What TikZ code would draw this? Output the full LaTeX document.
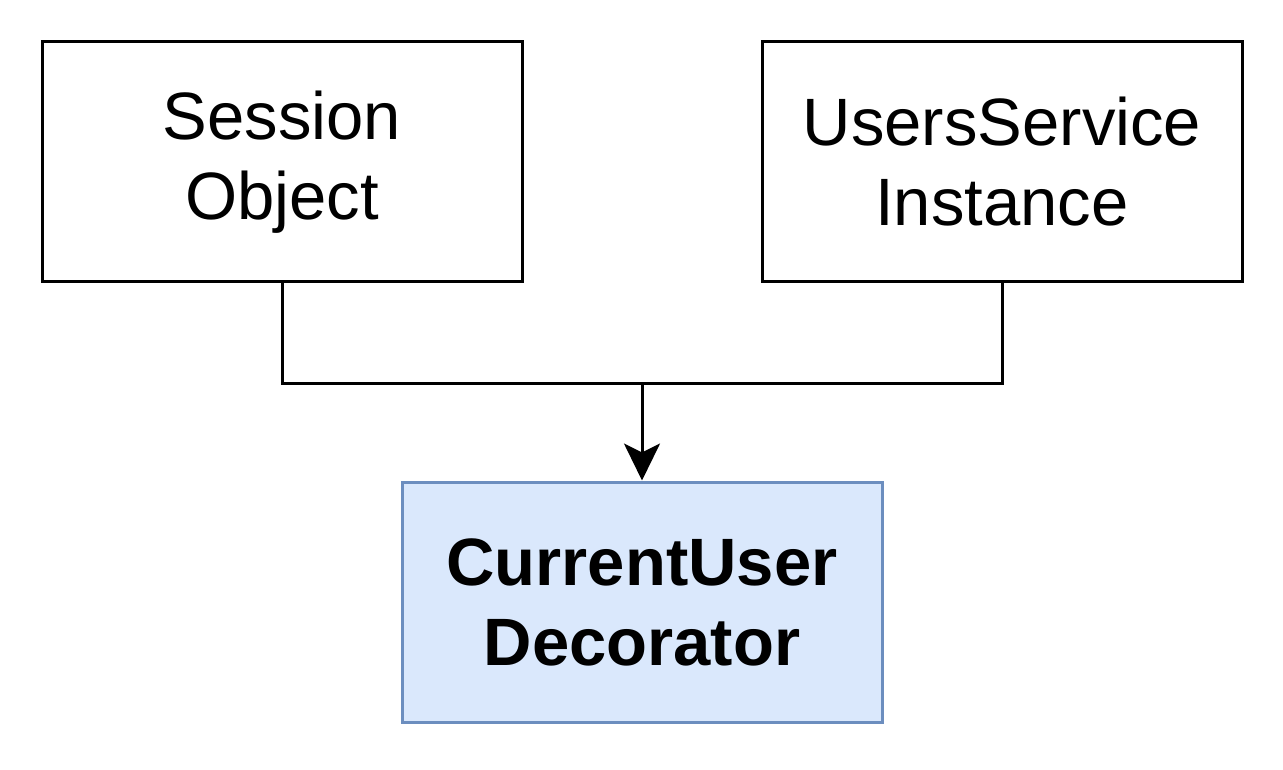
\documentclass[tikz,border=0pt]{standalone}
\usepackage{fontspec}
\setmainfont{Liberation Sans}
\usetikzlibrary{arrows.meta}
\definecolor{bluefill}{HTML}{DAE8FC}
\definecolor{bluestroke}{HTML}{6C8EBF}
\begin{document}
\begin{tikzpicture}[x=1pt,y=-1pt,
  box/.style={draw=black,line width=3pt,minimum width=480pt,minimum height=240pt,inner sep=0pt,align=center,font=\fontsize{67}{80}\selectfont},
  bluebox/.style={box,draw=bluestroke,fill=bluefill,font=\fontsize{67}{80}\selectfont\bfseries},
  conn/.style={line width=3pt,draw=black},
  tip/.style={-{Stealth[length=37pt,width=36pt,inset=9pt]}}]
\useasboundingbox (0,0) rectangle (1283,770);
\node[box] (session) at (282,162) {Session\\Object};
\node[box] (users) at (1002,162) {UsersService\\Instance};
\node[bluebox] (cud) at (642,602) {CurrentUser\\Decorator};
\coordinate (j) at (642,382);
\draw[conn] (session.south) -- ++(0,100) -| (users.south);
\draw[conn,tip] (j) -- (cud.north);
\end{tikzpicture}
\end{document}
